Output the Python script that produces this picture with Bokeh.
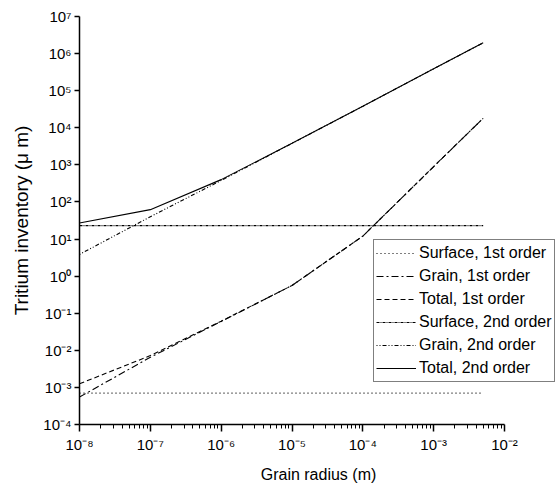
from bokeh.plotting import figure
from bokeh.models import FixedTicker, CustomJSTickFormatter, Legend, LegendItem
from bokeh.embed import file_html
from bokeh.resources import INLINE

# ---- data ----
radius = [1e-8, 1e-7, 1e-6, 1e-5, 1e-4, 1e-3, 5e-3]
surface_1st = [7e-4, 7e-4, 7e-4, 7e-4, 7e-4, 7e-4, 7e-4]
grain_1st = [5.5e-4, 6.5e-3, 0.06, 0.56, 12.0, 900.0, 1.8e4]
total_1st = [1.25e-3, 7.2e-3, 0.061, 0.56, 12.0, 900.0, 1.8e4]
surface_2nd = [23.0, 23.0, 23.0, 23.0, 23.0, 23.0, 23.0]
grain_2nd = [3.85, 40.0, 380.0, 3.8e3, 3.8e4, 3.9e5, 1.95e6]
total_2nd = [27.0, 62.0, 400.0, 3.82e3, 3.8e4, 3.9e5, 1.95e6]

x_tick_vals = [1e-8, 1e-7, 1e-6, 1e-5, 1e-4, 1e-3, 1e-2]
x_tick_labels = ["10⁻⁸", "10⁻⁷", "10⁻⁶", "10⁻⁵", "10⁻⁴", "10⁻³", "10⁻²"]
y_tick_vals = [1e-4, 1e-3, 1e-2, 1e-1, 1e0, 1e1, 1e2, 1e3, 1e4, 1e5, 1e6, 1e7]
y_tick_labels = ["10⁻⁴", "10⁻³", "10⁻²", "10⁻¹", "10⁰", "10¹", "10²", "10³",
                 "10⁴", "10⁵", "10⁶", "10⁷"]

series_names = ["Surface, 1st order", "Grain, 1st order", "Total, 1st order",
                "Surface, 2nd order", "Grain, 2nd order", "Total, 2nd order"]
series_values = [surface_1st, grain_1st, total_1st, surface_2nd, grain_2nd, total_2nd]
series_dash = ["1 3", "7 3 2 3", "5 3", "3 1 1 1", "1 2 1 2 4 2", "solid"]

FONT = "Liberation Sans"

# frame spans 79..557 px; the x axis itself (1e-8..1e-2) covers 425 px of it
x_end = 10 ** (-8 + 6 * 478 / 425)

p = figure(width=557, height=488, x_axis_type="log", y_axis_type="log",
           x_range=(1e-8, x_end), y_range=(1e-4, 1e7),
           output_backend="svg", toolbar_location=None,
           min_border_left=79, min_border_right=0, min_border_top=16,
           min_border_bottom=64)
p.outline_line_color = None
p.grid.visible = False
p.background_fill_color = "white"
p.border_fill_color = "white"

minor = [m * d for d in x_tick_vals[:-1] for m in range(2, 10)]
p.xaxis.ticker = FixedTicker(ticks=x_tick_vals, minor_ticks=minor)
p.yaxis.ticker = FixedTicker(ticks=y_tick_vals, minor_ticks=[])
p.xaxis.bounds = (x_tick_vals[0], x_tick_vals[-1])

fmt_code = """
for (let i = 0; i < vals.length; i++) {
  if (Math.abs(Math.log10(tick) - Math.log10(vals[i])) < 1e-6) { return labs[i]; }
}
return "";
"""
p.xaxis.formatter = CustomJSTickFormatter(args=dict(vals=x_tick_vals, labs=x_tick_labels), code=fmt_code)
p.yaxis.formatter = CustomJSTickFormatter(args=dict(vals=y_tick_vals, labs=y_tick_labels), code=fmt_code)

for ax in (p.xaxis, p.yaxis):
    ax.axis_line_width = 1.5
    ax.axis_line_color = "black"
    ax.major_tick_line_color = "black"
    ax.major_tick_line_width = 1.5
    ax.minor_tick_line_color = "black"
    ax.minor_tick_line_width = 1
    ax.major_tick_in = 0
    ax.minor_tick_in = 0
    ax.major_label_text_font = FONT
    ax.major_label_text_font_size = "15px"
    ax.major_label_text_color = "black"
    ax.axis_label_text_font = FONT
    ax.axis_label_text_font_style = "normal"
    ax.axis_label_text_color = "black"

p.xaxis.major_tick_out = 7
p.xaxis.minor_tick_out = 4
p.yaxis.major_tick_out = 5
p.yaxis.minor_tick_out = 0
p.xaxis.major_label_standoff = 4
p.yaxis.major_label_standoff = 3

p.xaxis.axis_label = "Grain radius (m)"
p.xaxis.axis_label_text_font_size = "16px"
p.xaxis.axis_label_standoff = 10
p.yaxis.axis_label = "Tritium inventory (μ m)"
p.yaxis.axis_label_text_font_size = "19px"
p.yaxis.axis_label_standoff = 8

items = []
for name, vals, dash in zip(series_names, series_values, series_dash):
    r = p.line(radius, vals, line_color="black", line_width=1.1, line_dash=dash)
    items.append(LegendItem(label=name, renderers=[r]))

legend = Legend(items=items, location=(294, 42), margin=0,
                padding=2, spacing=1, glyph_width=40, glyph_height=22,
                label_height=22, label_standoff=3,
                label_text_font=FONT, label_text_font_size="16px",
                label_text_color="black",
                border_line_color="black", border_line_width=1.2,
                background_fill_color="white", background_fill_alpha=1.0)
p.add_layout(legend, "center")

open("out.html", "w").write(file_html(p, INLINE))
